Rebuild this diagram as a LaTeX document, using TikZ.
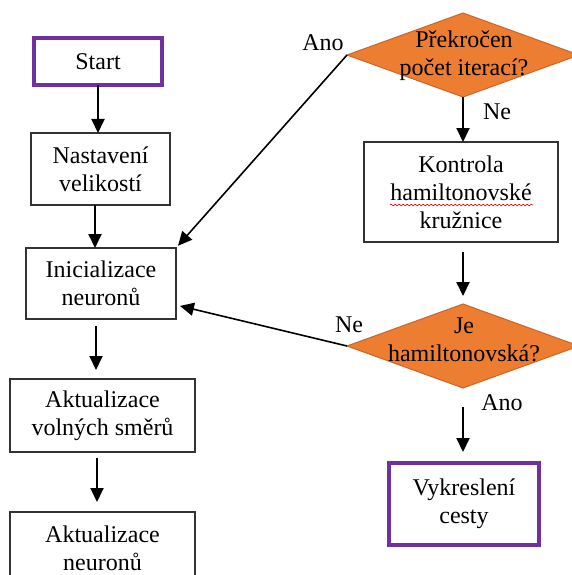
\documentclass[tikz,border=0pt]{standalone}
\usepackage{fontspec}
\setmainfont{Liberation Serif}
\usetikzlibrary{shapes.geometric,arrows.meta,calc,decorations.pathmorphing}
\definecolor{termpurple}{HTML}{7030A0}
\definecolor{decfill}{HTML}{ED7D31}
\definecolor{decline}{HTML}{C8662A}
\begin{document}
\begin{tikzpicture}[x=1pt,y=-1pt,
  every node/.style={font=\fontsize{24}{28}\selectfont, align=center, inner sep=0pt, outer sep=0pt},
  stepbox/.style={draw=black!80, line width=1.2pt, rectangle},
  termbox/.style={draw=termpurple, line width=4pt, rectangle},
  decision/.style={diamond, fill=decfill, draw=decline, line width=1pt,
    minimum width=232pt, minimum height=84pt},
  arr/.style={draw, line width=2pt, -{Triangle[length=14pt,width=13pt]}},
  thinarr/.style={draw, line width=1.6pt, -{Triangle[length=14pt,width=13pt]}}]

\useasboundingbox (0,0) rectangle (572,575);
\clip (0,0) rectangle (572,575);
\fill[white] (0,0) rectangle (572,575);

% left column
\node[termbox, minimum width=128pt, minimum height=47pt] (start) at (98,61.5) {Start};
\node[stepbox, minimum width=139pt, minimum height=72pt] (nast) at (100.5,169) {Nastavení\\velikostí};
\node[stepbox, minimum width=150pt, minimum height=71pt] (ini) at (101,283.5) {Inicializace\\neuronů};
\node[stepbox, minimum width=185pt, minimum height=73pt] (smer) at (102.5,415.5) {Aktualizace\\volných směrů};
\node[stepbox, minimum width=185pt, minimum height=73pt] (akt) at (102.5,548.5) {Aktualizace\\neuronů};

% right column
\node[decision] (d1) at (463,55) {};
\node at (464,56) {Překročen\\počet iterací?};
\node[stepbox, minimum width=194pt, minimum height=100pt] (kon) at (461,192) {Kontrola\\hamiltonovské\\kružnice};
\draw[red, line width=0.6pt, decorate, decoration={snake, amplitude=0.8pt, segment length=4pt}]
  ($(kon.center)+(-71,13)$) -- ($(kon.center)+(72,13)$);
\node[decision] (d2) at (463,346) {};
\node at (464,340) {Je\\hamiltonovská?};
\node[termbox, minimum width=150pt, minimum height=82pt] (vyk) at (464,504) {Vykreslení\\cesty};

% branch labels
\node at (323,43) {Ano};
\node at (497,112) {Ne};
\node at (349,325) {Ne};
\node at (502,403) {Ano};

% connectors
\draw[arr] (start.south) -- (start.south |- nast.north);
\draw[arr] ([xshift=-5.5pt]nast.south) -- ([xshift=-6pt]ini.north);
\draw[arr, shorten <=7pt, shorten >=9pt] ([xshift=-5pt]ini.south) -- ([xshift=-6.5pt]smer.north);
\draw[arr, shorten <=6pt, shorten >=10pt] ([xshift=-5.5pt]smer.south) -- ([xshift=-5.5pt]akt.north);
\draw[arr] (d1.south) -- (d1.south |- kon.north);
\draw[arr, shorten <=10pt, shorten >=8pt] (d2.north |- kon.south) -- (d2.north);
\draw[arr, shorten <=19pt, shorten >=11pt] (d2.south) -- (d2.south |- vyk.north);
\draw[thinarr, shorten >=3pt] (d1.west) -- (ini.north east);
\draw[thinarr, shorten >=4pt] (d2.west) -- ([yshift=-21.5pt]ini.east);
\end{tikzpicture}
\end{document}
